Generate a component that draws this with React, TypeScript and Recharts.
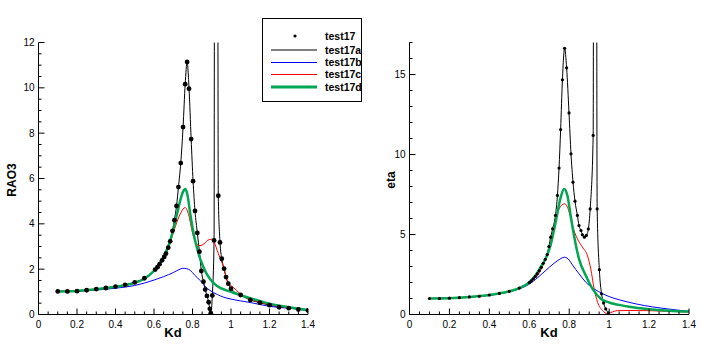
import { LineChart, Line, XAxis, YAxis } from "recharts";

type Pt = [number, number];

// ---- left panel: RAO3 vs Kd ----
const rao17: Pt[] = [
  [0.1, 1.02], [0.15, 1.02], [0.2, 1.03], [0.25, 1.07], [0.3, 1.12], [0.35, 1.17], [0.4, 1.23],
  [0.45, 1.31], [0.5, 1.42], [0.55, 1.6], [0.606, 1.98], [0.618, 2.09], [0.629, 2.22], [0.642, 2.39],
  [0.653, 2.54], [0.662, 2.69], [0.674, 2.95], [0.684, 3.23], [0.696, 3.69], [0.706, 4.16], [0.717, 4.79],
  [0.727, 5.62], [0.739, 6.68], [0.751, 8.27], [0.762, 10.16], [0.772, 11.14], [0.782, 9.96], [0.793, 7.74],
  [0.803, 5.88], [0.813, 4.57], [0.825, 3.6], [0.836, 2.77], [0.846, 1.92], [0.857, 1.45], [0.866, 1.1],
  [0.875, 0.82], [0.884, 0.54], [0.89, 0.25], [0.895, 0.06], [0.903, 0.84], [0.912, 3.27], [0.934, 5.24],
  [0.943, 3.18], [0.952, 2.46], [0.964, 2.02], [0.974, 1.65], [0.986, 1.36], [1.0, 1.14], [1.05, 0.86],
  [1.1, 0.64], [1.15, 0.52], [1.2, 0.41], [1.25, 0.32], [1.3, 0.28], [1.35, 0.22], [1.4, 0.18],
];
const rao17a: Pt[] = [
  [0.1, 1.02], [0.2, 1.03], [0.3, 1.12], [0.4, 1.23], [0.5, 1.42], [0.55, 1.6], [0.606, 1.98],
  [0.629, 2.22], [0.653, 2.54], [0.674, 2.95], [0.684, 3.23], [0.696, 3.69], [0.706, 4.16], [0.717, 4.79],
  [0.727, 5.62], [0.739, 6.68], [0.751, 8.27], [0.762, 10.16], [0.772, 11.14], [0.782, 9.96], [0.793, 7.74],
  [0.803, 5.88], [0.813, 4.57], [0.825, 3.6], [0.836, 2.77], [0.846, 1.92], [0.857, 1.45], [0.866, 1.1],
  [0.875, 0.82], [0.884, 0.54], [0.89, 0.25], [0.895, 0.06], [0.903, 0.84], [0.912, 3.27], [0.918, 60],
  [0.926, 60], [0.934, 5.24], [0.943, 3.18], [0.952, 2.46], [0.964, 2.02], [0.974, 1.65], [0.986, 1.36],
  [1.0, 1.14], [1.05, 0.86], [1.1, 0.64], [1.15, 0.52], [1.2, 0.41], [1.3, 0.28], [1.4, 0.18],
];
const rao17b: Pt[] = [
  [0.1, 1.01], [0.2, 1.03], [0.3, 1.08], [0.4, 1.16], [0.5, 1.28], [0.6, 1.52], [0.65, 1.67], [0.7, 1.85],
  [0.73, 1.98], [0.75, 2.04], [0.77, 2.02], [0.788, 1.95], [0.81, 1.75], [0.84, 1.5], [0.865, 1.25],
  [0.891, 1.06], [0.93, 0.88], [0.96, 0.77], [1.0, 0.68], [1.05, 0.6], [1.1, 0.53], [1.15, 0.44],
  [1.2, 0.36], [1.3, 0.28], [1.4, 0.22],
];
const rao17c: Pt[] = [
  [0.1, 1.02], [0.2, 1.04], [0.3, 1.11], [0.4, 1.22], [0.5, 1.4], [0.55, 1.58], [0.6, 1.92], [0.65, 2.5],
  [0.68, 3.05], [0.7, 3.6], [0.72, 4.1], [0.74, 4.5], [0.762, 4.72], [0.78, 4.4], [0.8, 3.6], [0.82, 3.12],
  [0.839, 3.04], [0.86, 3.12], [0.88, 3.28], [0.9, 3.32], [0.912, 3.2], [0.934, 2.69], [0.957, 2.2],
  [0.986, 1.4], [1.012, 1.2], [1.047, 0.92], [1.09, 0.7], [1.116, 0.62], [1.2, 0.44], [1.3, 0.3], [1.4, 0.2],
];
const rao17d: Pt[] = [
  [0.1, 1.02], [0.2, 1.04], [0.3, 1.11], [0.4, 1.22], [0.5, 1.4], [0.55, 1.58], [0.6, 1.93], [0.65, 2.55],
  [0.68, 3.15], [0.7, 3.75], [0.72, 4.45], [0.74, 5.15], [0.755, 5.48], [0.762, 5.54], [0.772, 5.35],
  [0.788, 4.46], [0.805, 3.6], [0.822, 2.98], [0.84, 2.45], [0.857, 2.09], [0.88, 1.7], [0.908, 1.4],
  [0.95, 1.15], [1.0, 1.0], [1.05, 0.85], [1.1, 0.72], [1.2, 0.48], [1.3, 0.32], [1.4, 0.19],
];

// ---- right panel: eta vs Kd ----
const eta17: Pt[] = [
  [0.1, 1.0], [0.15, 1.0], [0.2, 1.02], [0.25, 1.05], [0.3, 1.1], [0.35, 1.14], [0.4, 1.22], [0.45, 1.32],
  [0.5, 1.45], [0.55, 1.65], [0.6, 2.0], [0.61, 2.1], [0.62, 2.23], [0.63, 2.38], [0.64, 2.55], [0.65, 2.74],
  [0.66, 2.95], [0.67, 3.2], [0.68, 3.45], [0.69, 3.75], [0.698, 4.25], [0.707, 4.83], [0.717, 5.36],
  [0.731, 6.19], [0.741, 7.44], [0.749, 9.15], [0.757, 11.56], [0.766, 14.67], [0.777, 16.64], [0.787, 15.42],
  [0.799, 12.6], [0.809, 10.04], [0.819, 8.27], [0.829, 7.08], [0.841, 6.19], [0.849, 5.56], [0.859, 5.25],
  [0.866, 4.98], [0.876, 4.83], [0.886, 4.94], [0.896, 5.35], [0.905, 6.6], [0.92, 11.19], [0.94, 6.6],
  [0.951, 2.8], [0.962, 1.29], [0.972, 0.72], [0.983, 0.35], [0.997, 0.1],
];
const eta17a: Pt[] = [
  [0.1, 1.0], [0.2, 1.02], [0.3, 1.1], [0.4, 1.22], [0.5, 1.45], [0.55, 1.65], [0.6, 2.0], [0.62, 2.23],
  [0.64, 2.55], [0.66, 2.95], [0.68, 3.45], [0.69, 3.75], [0.698, 4.25], [0.707, 4.83], [0.717, 5.36],
  [0.731, 6.19], [0.741, 7.44], [0.749, 9.15], [0.757, 11.56], [0.766, 14.67], [0.777, 16.64], [0.787, 15.42],
  [0.799, 12.6], [0.809, 10.04], [0.819, 8.27], [0.829, 7.08], [0.841, 6.19], [0.849, 5.56], [0.859, 5.25],
  [0.866, 4.98], [0.876, 4.83], [0.886, 4.94], [0.896, 5.35], [0.905, 6.6], [0.92, 11.19], [0.926, 80],
  [0.932, 80], [0.94, 6.6], [0.951, 2.8], [0.962, 1.29], [0.972, 0.72], [0.983, 0.35], [0.997, 0.1],
];
const eta17b: Pt[] = [
  [0.1, 1.0], [0.2, 1.02], [0.3, 1.09], [0.4, 1.2], [0.5, 1.42], [0.55, 1.6], [0.6, 1.9], [0.632, 2.2],
  [0.66, 2.5], [0.7, 2.95], [0.74, 3.35], [0.777, 3.58], [0.8, 3.4], [0.816, 3.1], [0.849, 2.55],
  [0.883, 2.02], [0.925, 1.6], [0.967, 1.3], [1.0, 1.12], [1.05, 0.92], [1.1, 0.76], [1.176, 0.56],
  [1.26, 0.4], [1.36, 0.25], [1.4, 0.2],
];
const eta17c: Pt[] = [
  [0.1, 1.0], [0.2, 1.02], [0.3, 1.1], [0.4, 1.22], [0.5, 1.45], [0.55, 1.65], [0.6, 1.98], [0.65, 2.6],
  [0.698, 4.1], [0.724, 5.46], [0.749, 6.6], [0.777, 6.92], [0.8, 6.4], [0.816, 5.56], [0.841, 4.73],
  [0.866, 4.21], [0.891, 3.69], [0.908, 2.85], [0.925, 1.6], [0.942, 0.77], [0.967, 0.25], [0.992, 0.05],
  [1.008, 0.12], [1.04, 0.24], [1.1, 0.25], [1.2, 0.24], [1.3, 0.2], [1.4, 0.16],
];
const eta17d: Pt[] = [
  [0.1, 1.0], [0.2, 1.02], [0.3, 1.1], [0.4, 1.22], [0.5, 1.45], [0.55, 1.65], [0.6, 2.0], [0.632, 2.45],
  [0.657, 2.96], [0.682, 3.5], [0.707, 4.35], [0.732, 5.77], [0.757, 7.3], [0.774, 7.85], [0.791, 7.44],
  [0.807, 6.19], [0.824, 4.94], [0.849, 3.48], [0.883, 2.44], [0.917, 1.6], [0.958, 0.98], [1.0, 0.75],
  [1.05, 0.6], [1.1, 0.48], [1.2, 0.33], [1.3, 0.24], [1.4, 0.18],
];

// axis ticks
const kdMajor = [0, 0.2, 0.4, 0.6, 0.8, 1, 1.2, 1.4];
const kdTicks = Array.from({ length: 29 }, (_, i) => (i * 5) / 100);
const raoMajor = [0, 2, 4, 6, 8, 10, 12];
const raoTicks = Array.from({ length: 25 }, (_, i) => i / 2);
const etaMajor = [0, 5, 10, 15];
const etaTicks = Array.from({ length: 18 }, (_, i) => i);

const legendItems = ["test17", "test17a", "test17b", "test17c", "test17d"];

const FONT = '"Liberation Sans", Arial, Helvetica, sans-serif';
const BLUE = "#0000ff";
const RED = "#ff0000";
const GREEN = "#00a651";

const rows = (pts: Pt[]) => pts.map(([kd, v]) => ({ kd, v }));
const isIn = (list: number[], v: number) => list.some((m) => Math.abs(m - v) < 1e-6);

const xTick = (props: any) => {
  const { x, y, payload } = props;
  const major = isIn(kdMajor, payload.value);
  return (
    <g>
      <line x1={x} x2={x} y1={y} y2={y - (major ? 6 : 3)} stroke="#000" />
      {major && (
        <text x={x} y={y + 13} textAnchor="middle" fontSize={10} fontFamily={FONT} fill="#000">
          {String(payload.value)}
        </text>
      )}
    </g>
  );
};

const yTick = (majors: number[]) => (props: any) => {
  const { x, y, payload } = props;
  const major = isIn(majors, payload.value);
  return (
    <g>
      <line x1={x} x2={x + (major ? 6 : 3)} y1={y} y2={y} stroke="#000" />
      {major && (
        <text x={x - 4} y={y + 3.5} textAnchor="end" fontSize={10} fontFamily={FONT} fill="#000">
          {String(payload.value)}
        </text>
      )}
    </g>
  );
};

type PanelProps = {
  left: number;
  yWidth: number;
  rightMargin: number;
  yMax: number;
  yMajor: number[];
  yTicks: number[];
  yTitle: string;
  yTitleX: number;
  dotR: number;
  s17: Pt[];
  sA: Pt[];
  sB: Pt[];
  sC: Pt[];
  sD: Pt[];
};

function Panel(p: PanelProps) {
  const plotW = 340 - p.yWidth - p.rightMargin;
  const midX = p.yWidth + plotW / 2;
  return (
    <div style={{ position: "absolute", left: p.left, top: 0 }}>
      <LineChart width={340} height={354} margin={{ top: 42.5, right: p.rightMargin, bottom: 0, left: 0.5 }}>
        <XAxis
          dataKey="kd"
          type="number"
          domain={[0, 1.4]}
          allowDataOverflow
          ticks={kdTicks}
          interval={0}
          height={39.5}
          tickSize={0}
          tickMargin={0}
          tickLine={false}
          axisLine={{ stroke: "#000" }}
          tick={xTick}
          label={() => (
            <text x={midX} y={337} textAnchor="middle" fontSize={13} fontWeight="bold" fontFamily={FONT} fill="#000">
              Kd
            </text>
          )}
        />
        <YAxis
          type="number"
          domain={[0, p.yMax]}
          allowDataOverflow
          ticks={p.yTicks}
          interval={0}
          width={p.yWidth}
          tickSize={0}
          tickMargin={0}
          tickLine={false}
          axisLine={{ stroke: "#000" }}
          tick={yTick(p.yMajor)}
          label={() => (
            <text
              x={p.yTitleX}
              y={180}
              transform={`rotate(-90, ${p.yTitleX}, 180)`}
              textAnchor="middle"
              fontSize={12}
              fontWeight="bold"
              fontFamily={FONT}
              fill="#000"
            >
              {p.yTitle}
            </text>
          )}
        />
        <Line data={rows(p.sA)} dataKey="v" type="monotone" stroke="#000" strokeWidth={1} dot={false} activeDot={false} isAnimationActive={false} />
        <Line data={rows(p.sB)} dataKey="v" type="monotone" stroke={BLUE} strokeWidth={1} dot={false} activeDot={false} isAnimationActive={false} />
        <Line data={rows(p.sC)} dataKey="v" type="monotone" stroke={RED} strokeWidth={1} dot={false} activeDot={false} isAnimationActive={false} />
        <Line data={rows(p.sD)} dataKey="v" type="monotone" stroke={GREEN} strokeWidth={2.5} dot={false} activeDot={false} isAnimationActive={false} />
        <Line
          data={rows(p.s17)}
          dataKey="v"
          stroke="none"
          dot={{ r: p.dotR, fill: "#000", stroke: "none" }}
          activeDot={false}
          isAnimationActive={false}
        />
      </LineChart>
    </div>
  );
}

export default function App() {
  const rowY = [36, 50, 62.5, 74.5, 87];
  const colors = ["#000", "#000", BLUE, RED, GREEN];
  return (
    <div style={{ position: "absolute", left: 0, top: 0, width: 707, height: 354, background: "#fff", fontFamily: FONT }}>
      <Panel left={0} yWidth={38} rightMargin={32} yMax={12} yMajor={raoMajor} yTicks={raoTicks} yTitle="RAO3" yTitleX={16} dotR={2.4}
        s17={rao17} sA={rao17a} sB={rao17b} sC={rao17c} sD={rao17d} />
      <Panel left={360} yWidth={49} rightMargin={11} yMax={17} yMajor={etaMajor} yTicks={etaTicks} yTitle="eta" yTitleX={35} dotR={1.6}
        s17={eta17} sA={eta17a} sB={eta17b} sC={eta17c} sD={eta17d} />
      <svg width={707} height={354} style={{ position: "absolute", left: 0, top: 0, pointerEvents: "none" }}>
        <rect x={262.5} y={18.5} width={99} height={83} fill="#fff" stroke="#000" />
        {legendItems.map((name, i) => (
          <g key={name}>
            {i === 0 ? (
              <circle cx={295} cy={rowY[i]} r={1.6} fill="#000" />
            ) : (
              <line x1={271} x2={317} y1={rowY[i]} y2={rowY[i]} stroke={colors[i]} strokeWidth={i === 4 ? 3 : 1} />
            )}
            <text x={325} y={rowY[i] + 3.5} fontSize={10.5} fontWeight="bold" fontFamily={FONT} fill="#000">
              {name}
            </text>
          </g>
        ))}
      </svg>
    </div>
  );
}
